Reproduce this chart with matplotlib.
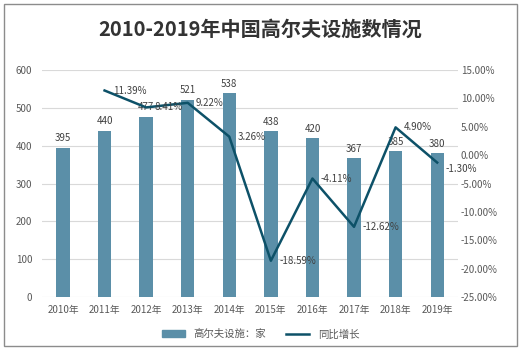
import matplotlib.pyplot as plt
import numpy as np
from matplotlib.patches import Rectangle
from matplotlib.lines import Line2D

plt.rcParams['font.family'] = ['Noto Sans CJK SC', 'DejaVu Sans']

years = ['2010年', '2011年', '2012年', '2013年', '2014年',
         '2015年', '2016年', '2017年', '2018年', '2019年']
facilities = [395, 440, 477, 521, 538, 438, 420, 367, 385, 380]
growth = [None, 11.39, 8.41, 9.22, 3.26, -18.59, -4.11, -12.62, 4.90, -1.30]

bar_color = '#5b8fa8'
line_color = '#0d5168'
text_color = '#595959'

fig = plt.figure(figsize=(5.21, 3.5), dpi=100)
fig.patches.append(Rectangle((0.008, 0.012), 0.984, 0.976, transform=fig.transFigure,
                             fill=False, edgecolor='#8c8c8c', linewidth=1.0))

fig.text(0.5, 0.915, '2010-2019年中国高尔夫设施数情况', ha='center', va='center',
         fontsize=14.5, fontweight='bold', color='#333333')

ax = fig.add_axes([0.081, 0.151, 0.798, 0.649])
x = np.arange(len(years))
ax.bar(x, facilities, width=0.32, color=bar_color, zorder=2)
for xi, v in zip(x, facilities):
    ax.text(xi, v + 12, str(v), ha='center', va='bottom', fontsize=7, color='#404040')

ax.set_ylim(0, 600)
ax.set_yticks(range(0, 601, 100))
ax.set_xlim(-0.5, len(years) - 0.5)
ax.set_xticks(x)
ax.set_xticklabels(years)
ax.grid(axis='y', color='#d9d9d9', linewidth=0.8, zorder=0)
for s in ax.spines.values():
    s.set_visible(False)
ax.tick_params(length=0, labelsize=7, colors=text_color)
ax.tick_params(axis='y', pad=7)
ax.tick_params(axis='x', pad=6)

ax2 = ax.twinx()
gx = [xi for xi, g in zip(x, growth) if g is not None]
gy = [g for g in growth if g is not None]
ax2.plot(gx, gy, color=line_color, linewidth=1.8, zorder=3)
for xi, g in zip(gx, gy):
    # last label sits just below its point so it clears the right-hand tick
    dy = -1.2 if xi == gx[-1] else 0
    ax2.text(xi + 0.2, g + dy, f'{g:.2f}%', ha='left', va='center', fontsize=7, color='#404040')
ax2.set_ylim(-25, 15)
ax2.set_yticks(range(-25, 16, 5))
ax2.set_yticklabels([f'{t:.2f}%' for t in range(-25, 16, 5)])
for s in ax2.spines.values():
    s.set_visible(False)
ax2.tick_params(length=0, labelsize=7, colors=text_color, pad=2)

handles = [Rectangle((0, 0), 1, 1, color=bar_color),
           Line2D([0], [0], color=line_color, linewidth=1.8)]
fig.legend(handles, ['高尔夫设施：家', '同比增长'], loc='center', bbox_to_anchor=(0.5, 0.045),
           ncol=2, frameon=False, fontsize=7.5, labelcolor=text_color,
           handlelength=2.2, handleheight=0.6, columnspacing=2.0)

fig.savefig('out.png', dpi=100)
